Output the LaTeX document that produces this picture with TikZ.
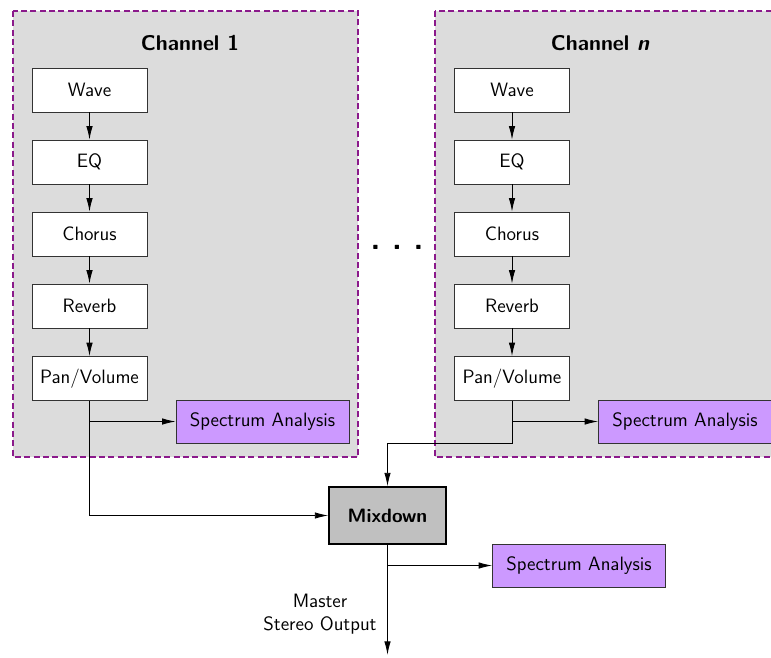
\documentclass[tikz,border=0pt]{standalone}
\usepackage{fontspec}
\usetikzlibrary{arrows.meta}
\definecolor{chanfill}{HTML}{DCDCDC}
\definecolor{chanedge}{HTML}{8B1A8B}
\definecolor{specfill}{HTML}{CC99FF}
\definecolor{mixfill}{HTML}{C0C0C0}
\begin{document}
\begin{tikzpicture}[x=0.75pt,y=-0.75pt,
  font=\sffamily\fontsize{14.5}{17}\selectfont,
  stage/.style={draw=black!80, fill=white, minimum width=86.25pt,
    minimum height=33pt, inner sep=0pt, line width=0.65pt},
  spec/.style={stage, fill=specfill, minimum width=129.75pt, minimum height=32.25pt},
  mixer/.style={draw=black, fill=mixfill, minimum width=87.75pt,
    minimum height=42.75pt, inner sep=0pt, line width=1.2pt,
    font=\sffamily\bfseries\fontsize{14.5}{17}\selectfont},
  channel/.style={draw=chanedge, fill=chanfill, dash pattern=on 4.5pt off 2.5pt, line width=0.9pt},
  title/.style={font=\sffamily\bfseries\fontsize{16}{18}\selectfont},
  flow/.style={-{Latex[length=10pt,width=4.8pt]}, line width=0.65pt}]
\useasboundingbox (0,0) rectangle (771,657);
\clip (0,0) rectangle (771,657);

% channel frames
\draw[channel] (13,11) rectangle (358,457);
\draw[channel] (435,11) rectangle (820,457);
\node[title] (t1) at (190,43) {Channel 1};
\node[title] (tn) at (600,43) {Channel {\itshape n}};

% channel 1 chain
\node[stage] (w1) at (89.5,90) {Wave};
\node[stage] (e1) at (89.5,162) {EQ};
\node[stage] (c1) at (89.5,234) {Chorus};
\node[stage] (r1) at (89.5,306) {Reverb};
\node[stage] (p1) at (89.5,378.5) {Pan/Volume};
\node[spec] (s1) at (262.5,421.5) {Spectrum Analysis};

% channel n chain
\node[stage] (wn) at (512,90) {Wave};
\node[stage] (en) at (512,162) {EQ};
\node[stage] (cn) at (512,234) {Chorus};
\node[stage] (rn) at (512,306) {Reverb};
\node[stage] (pn) at (512,378.5) {Pan/Volume};
\node[spec] (sn) at (685,421.5) {Spectrum Analysis};

% ellipsis between channels
\node[font=\sffamily\bfseries\fontsize{24}{26}\selectfont] (dots) at (397,247) {.\ .\ .};

% mixdown and master section
\node[mixer] (mix) at (387.5,515.5) {Mixdown};
\node[spec] (sm) at (579,565.5) {Spectrum Analysis};
\node[align=center] (master) at (320,614) {Master\\Stereo Output};
\path (mix.south) ++(0,110) coordinate (out);

\foreach \a/\b in {w1/e1,e1/c1,c1/r1,r1/p1,wn/en,en/cn,cn/rn,rn/pn}
  \draw[flow] (\a) -- (\b);

\coordinate (j1) at (p1.south |- s1.west);
\draw[flow] (j1) -- (s1.west);
\draw[flow] (p1.south) |- (mix.west);

\coordinate (jn) at (pn.south |- sn.west);
\coordinate (kn) at (pn.south |- sn.south);
\draw[flow] (jn) -- (sn.west);
\draw[flow] (pn.south) -- (kn) -| (mix.north);

\coordinate (jm) at (mix.south |- sm.west);
\draw[flow] (jm) -- (sm.west);
\draw[flow] (mix.south) -- (out);
\end{tikzpicture}
\end{document}
